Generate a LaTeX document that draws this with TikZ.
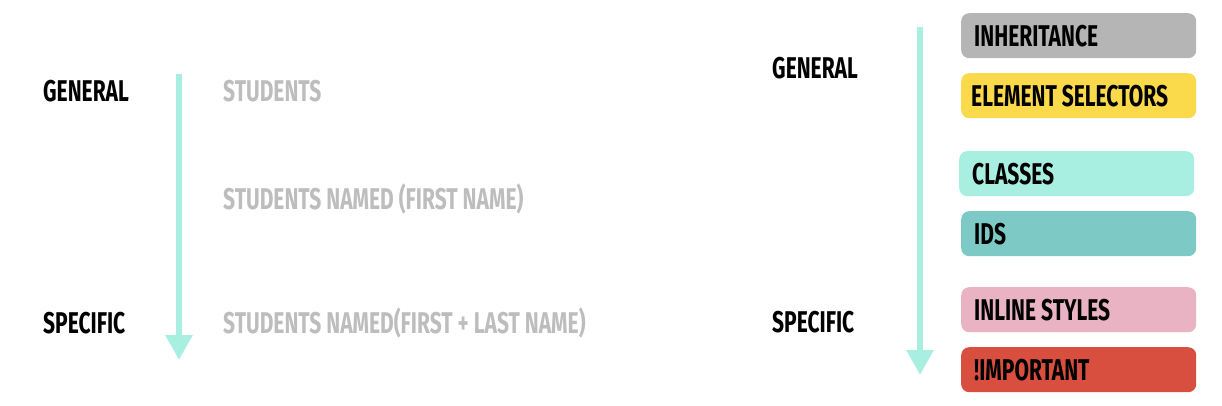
\documentclass[tikz,border=0pt]{standalone}
\usepackage{fontspec}
\usetikzlibrary{arrows.meta}
\newfontfamily\din{Fira Sans}[FakeStretch=0.7]
\definecolor{aqua}{HTML}{A9EFE1}
\definecolor{softgray}{HTML}{BDBDBD}
\definecolor{boxgray}{HTML}{B5B5B5}
\definecolor{boxyellow}{HTML}{FAD94B}
\definecolor{boxteal}{HTML}{7CC9C6}
\definecolor{boxpink}{HTML}{E9B3C4}
\definecolor{boxred}{HTML}{D84F3F}
\tikzset{
  lbl/.style={anchor=base west, inner sep=0pt, font=\din\bfseries\fontsize{30}{30}\selectfont},
  darklbl/.style={lbl, text=black},
  graylbl/.style={lbl, text=softgray},
  arr/.style={draw=aqua, line width=6pt, -{Triangle[width=26pt,length=25pt]}},
  box/.style={anchor=north west, rounded corners=8pt, minimum width=235pt, minimum height=45pt,
    text width=209pt, inner xsep=13pt, inner ysep=0pt, align=flush left, text height=21pt, text depth=0pt,
    font=\din\bfseries\fontsize{30}{30}\selectfont, text=black},
}
\begin{document}
\begin{tikzpicture}[x=1pt,y=-1pt]
\useasboundingbox (0,0) rectangle (1222,406);
% left
\node[darklbl] (lgen) at (43,102) {GENERAL};
\node[darklbl] (lspec) at (43,333) {SPECIFIC};
\coordinate (la) at (179,74);
\coordinate (lb) at (179,360);
\draw[arr] (la) -- (lb);
\node[graylbl] (s1) at (223,102) {STUDENTS};
\node[graylbl] (s2) at (223,209) {STUDENTS NAMED (FIRST NAME)};
\node[graylbl] (s3) at (223,333) {STUDENTS NAMED(FIRST + LAST NAME)};
% right
\node[darklbl] (rgen) at (772,79) {GENERAL};
\node[darklbl] (rspec) at (772,332) {SPECIFIC};
\coordinate (ra) at (920,27);
\coordinate (rb) at (920,375);
\draw[arr] (ra) -- (rb);
\node[box, fill=boxgray] (inh) at (961,13) {INHERITANCE};
\node[box, fill=boxyellow, inner xsep=10pt, text width=215pt] (elem) at (961,73) {ELEMENT SELECTORS};
\node[box, fill=aqua] (cls) at (959,151) {CLASSES};
\node[box, fill=boxteal] (ids) at (961,211) {IDS};
\node[box, fill=boxpink] (inl) at (961,287) {INLINE STYLES};
\node[box, fill=boxred] (imp) at (961,347) {!IMPORTANT};
\end{tikzpicture}
\end{document}
